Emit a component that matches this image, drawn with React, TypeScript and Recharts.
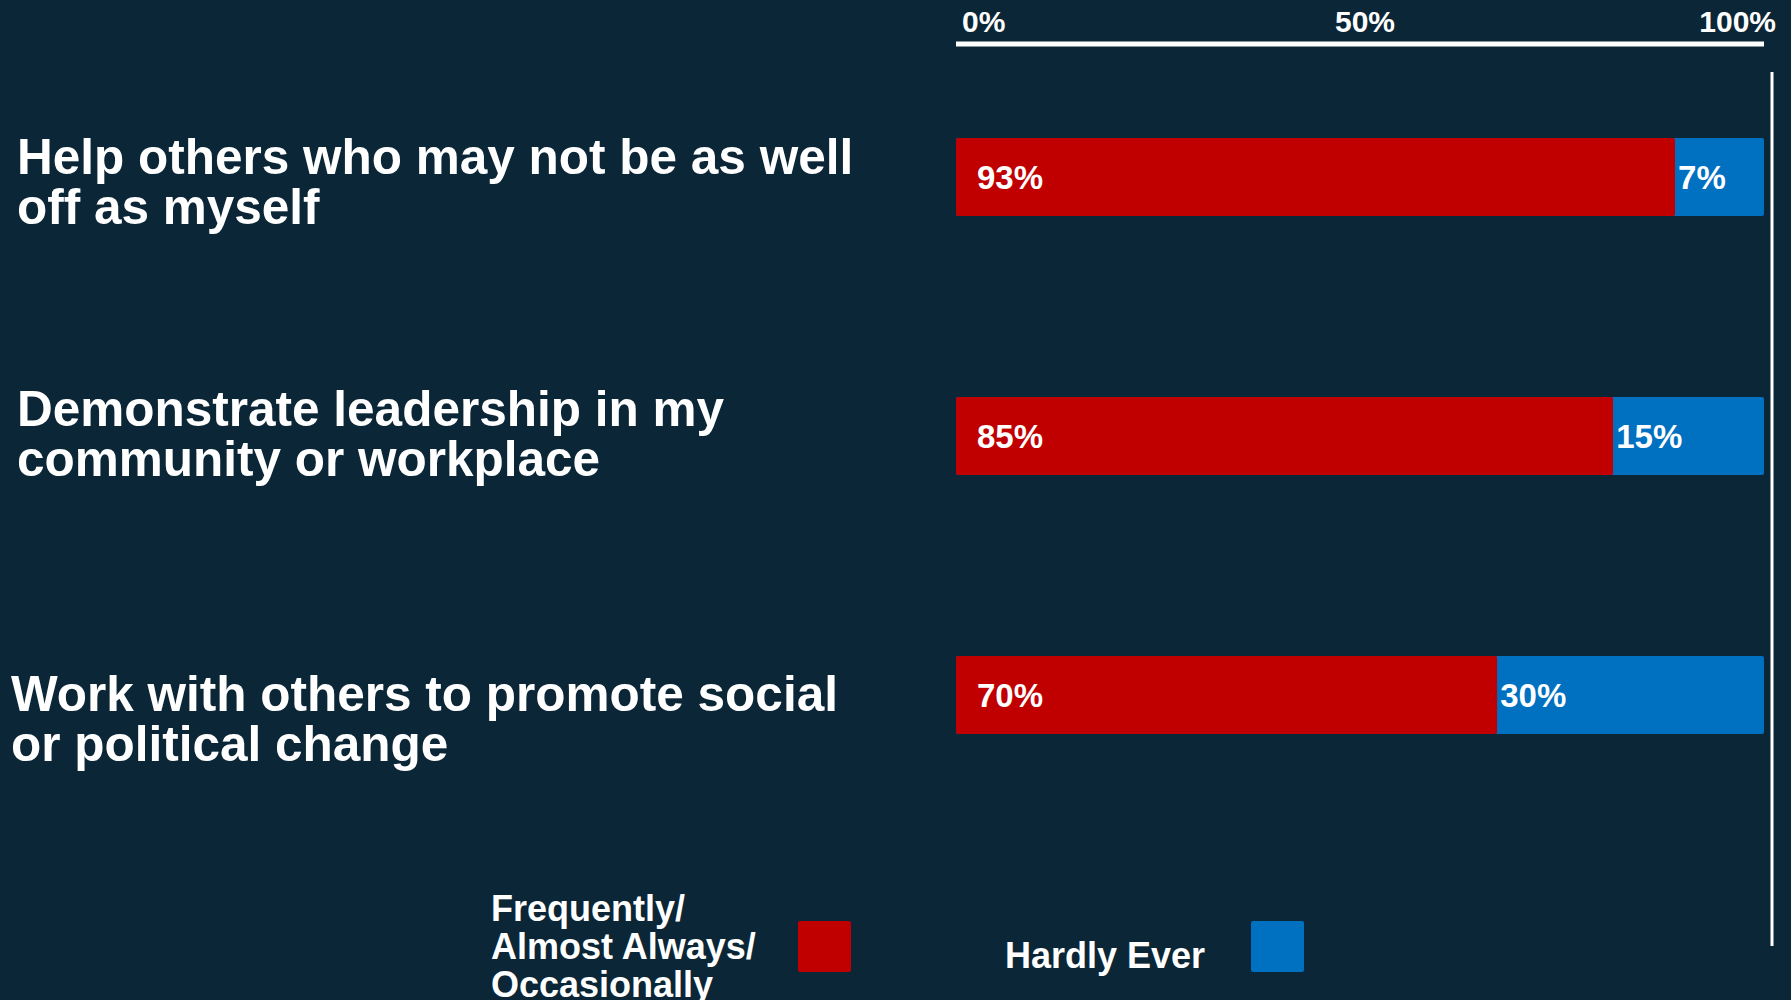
import { BarChart, Bar, XAxis, YAxis, LabelList } from "recharts";

// survey rows, top to bottom
const CATEGORIES = [
  "Help others who may not be as well off as myself",
  "Demonstrate leadership in my community or workplace",
  "Work with others to promote social or political change",
];
const CATEGORY_LINES = [
  ["Help others who may not be as well", "off as myself"],
  ["Demonstrate leadership in my", "community or workplace"],
  ["Work with others to promote social", "or political change"],
];
const FREQUENT = [93, 85, 70]; // Frequently / Almost Always / Occasionally
const HARDLY = [7, 15, 30]; // Hardly Ever
const X_TICKS = [0, 50, 100];

const RED = "#C00000";
const BLUE = "#0070C0";
const BG = "#0b2636";
const FONT = "'Liberation Sans', Arial, sans-serif";

const data = CATEGORIES.map((category, i) => ({
  category,
  frequent: FREQUENT[i],
  hardly: HARDLY[i],
}));

// the text boxes in the source slide are not quite centred on their bars
const LABEL_NUDGE = [
  { dx: 17, dy: -3 },
  { dx: 17, dy: -10 },
  { dx: 11, dy: 16 },
];

const CategoryTick = (props: any) => {
  const { y, payload } = props;
  const i = CATEGORIES.indexOf(payload.value);
  const nudge = LABEL_NUDGE[i] || { dx: 17, dy: 0 };
  return (
    <text
      x={nudge.dx}
      y={y + nudge.dy}
      fill="#fff"
      fontSize={49.5}
      fontWeight={700}
      fontFamily={FONT}
      textAnchor="start"
    >
      {(CATEGORY_LINES[i] || [payload.value]).map((line, k) => (
        <tspan key={k} x={nudge.dx} dy={k === 0 ? 0 : 50}>
          {line}
        </tspan>
      ))}
    </text>
  );
};

const PercentTick = (props: any) => {
  const { x, y, payload } = props;
  const v = payload.value;
  const anchor = v === 0 ? "start" : v === 100 ? "end" : "middle";
  const dx = v === 0 ? 6 : v === 100 ? 12 : 5;
  return (
    <text
      x={x + dx}
      y={y - 12}
      fill="#fff"
      fontSize={30}
      fontWeight={700}
      fontFamily={FONT}
      textAnchor={anchor}
    >
      {`${v}%`}
    </text>
  );
};

const insideLabel = (dx: number) => (props: any) => {
  const { x, y, height, value } = props;
  return (
    <text
      x={x + dx}
      y={y + height / 2}
      dominantBaseline="central"
      fill="#fff"
      fontSize={33}
      fontWeight={700}
      fontFamily={FONT}
    >
      {`${value}%`}
    </text>
  );
};

const legendText = {
  position: "absolute" as const,
  color: "#fff",
  fontSize: 36,
  fontWeight: 700,
  lineHeight: "38px",
  fontFamily: FONT,
  whiteSpace: "nowrap" as const,
};

export default function App() {
  return (
    <div
      style={{
        position: "absolute",
        left: 0,
        top: 0,
        width: 1791,
        height: 1000,
        background: BG,
        overflow: "hidden",
      }}
    >
      <BarChart
        width={1791}
        height={1000}
        data={data}
        layout="vertical"
        margin={{ top: 0, right: 27, bottom: 176, left: 0 }}
      >
        {/* printed scale across the top */}
        <XAxis
          xAxisId="scale"
          type="number"
          orientation="top"
          domain={[0, 100]}
          allowDataOverflow
          ticks={X_TICKS}
          height={44}
          tickLine={false}
          tickSize={0}
          tickMargin={0}
          axisLine={{ stroke: "#fff", strokeWidth: 5 }}
          tick={<PercentTick />}
          interval={0}
        />
        {/* the bars in the slide run a little shorter than the printed scale */}
        <XAxis xAxisId="data" type="number" orientation="bottom" domain={[0, 104.5]} hide />
        <YAxis
          type="category"
          dataKey="category"
          width={956}
          axisLine={false}
          tickLine={false}
          tick={<CategoryTick />}
          interval={0}
          padding={{ top: 3, bottom: 0 }}
        />
        <Bar
          xAxisId="data"
          dataKey="frequent"
          stackId="a"
          fill={RED}
          barSize={78}
          radius={2}
          background={{ fill: BLUE, radius: 2 }}
          isAnimationActive={false}
        >
          <LabelList dataKey="frequent" content={insideLabel(21)} />
        </Bar>
        <Bar
          xAxisId="data"
          dataKey="hardly"
          stackId="a"
          fill={BLUE}
          barSize={78}
          isAnimationActive={false}
        >
          <LabelList dataKey="hardly" content={insideLabel(3)} />
        </Bar>
      </BarChart>

      <svg
        width={1791}
        height={1000}
        style={{ position: "absolute", left: 0, top: 0, pointerEvents: "none" }}
      >
        <line x1={1772} y1={72} x2={1772} y2={946} stroke="#fff" strokeWidth={3} />
      </svg>

      <div style={{ ...legendText, left: 491, top: 890 }}>
        Frequently/
        <br />
        Almost Always/
        <br />
        Occasionally
      </div>
      <div style={{ position: "absolute", left: 798, top: 921, width: 53, height: 51, background: RED, borderRadius: 2 }} />
      <div style={{ ...legendText, left: 1005, top: 937 }}>Hardly Ever</div>
      <div style={{ position: "absolute", left: 1251, top: 921, width: 53, height: 51, background: BLUE, borderRadius: 2 }} />
    </div>
  );
}
